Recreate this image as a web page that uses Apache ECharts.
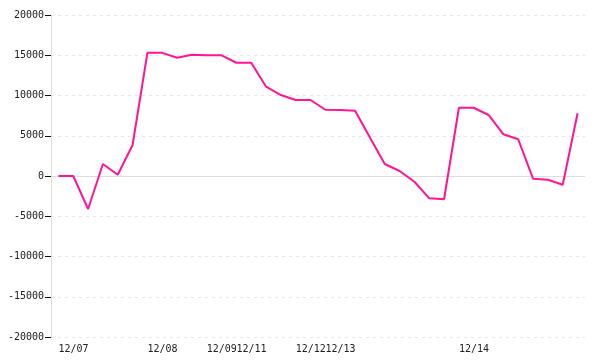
<!DOCTYPE html>
<html>
<head>
<meta charset="utf-8">
<script src="https://cdn.jsdelivr.net/npm/echarts@6/dist/echarts.min.js"></script>
<style>html,body{margin:0;padding:0;background:#fff}#c{width:600px;height:360px}</style>
</head>
<body>
<div id="c"></div>
<script>
const categories = [
  '12/07','12/07','12/07','12/07','12/07','12/07',
  '12/08','12/08','12/08','12/08',
  '12/09','12/09',
  '12/11','12/11','12/11','12/11',
  '12/12','12/12',
  '12/13','12/13','12/13','12/13','12/13','12/13','12/13','12/13','12/13',
  '12/14','12/14','12/14','12/14','12/14','12/14','12/14','12/14','12/14'
];
const values = [
  0, 0, -4100, 1490, 160, 3850,
  15300, 15300, 14690, 15060,
  14990, 14990,
  14070, 14070, 11090, 10060,
  9440, 9440,
  8230, 8200, 8110, 4780, 1490, 620, -710, -2770, -2890,
  8480, 8480, 7580, 5180, 4560, -340, -460, -1080, 7790
];
const yMin = -20000, yMax = 20000, yStep = 5000;

const chart = echarts.init(document.getElementById('c'), null, {renderer: 'canvas'});
chart.setOption({
  animation: false,
  grid: {left: 51, right: 15, top: 15, bottom: 23, containLabel: false},
  xAxis: {
    type: 'category',
    data: categories,
    boundaryGap: true,
    axisLine: {show: false},
    axisTick: {show: false},
    axisLabel: {
      interval: function (i) { return i === 0 || categories[i] !== categories[i - 1]; },
      align: 'left',
      margin: 7,
      color: '#222',
      fontFamily: 'DejaVu Sans Mono',
      fontSize: 10
    },
    splitLine: {show: false}
  },
  yAxis: {
    type: 'value',
    min: yMin, max: yMax, interval: yStep,
    axisLine: {show: true, lineStyle: {color: '#dddddd', width: 1}},
    axisTick: {show: true, length: 6, lineStyle: {color: '#111', width: 1}},
    axisLabel: {
      color: '#222', fontFamily: 'DejaVu Sans Mono', fontSize: 10, margin: 7,
      formatter: function (v) { return String(v); }
    },
    splitLine: {show: true, lineStyle: {color: '#e6e6e6', type: [3, 4]}}
  },
  series: [{
    type: 'line',
    data: values,
    showSymbol: false,
    symbol: 'none',
    lineStyle: {color: '#ff1493', width: 2},
    itemStyle: {color: '#ff1493'},
    markLine: {
      silent: true,
      symbol: 'none',
      label: {show: false},
      lineStyle: {color: '#dddddd', type: 'solid', width: 1},
      data: [{yAxis: 0}],
      z: 1
    },
    z: 3
  }]
});
</script>
</body>
</html>
